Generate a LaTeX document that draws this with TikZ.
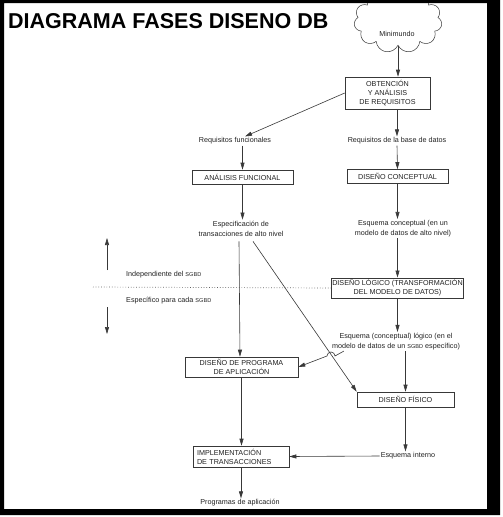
\documentclass[tikz,border=0pt]{standalone}
\usepackage{fontspec}
\setmainfont{Liberation Sans}
\usetikzlibrary{arrows.meta, shapes.symbols}
\definecolor{tinta}{HTML}{222222}
\definecolor{trazo}{HTML}{383838}
\newcommand{\sgbd}{{\fontsize{5.6}{6}\selectfont SGBD}}

\begin{document}
\begin{tikzpicture}[x=1pt, y=-1pt, >={Triangle[length=7pt, width=4pt]},
  caja/.style={draw=trazo, line width=0.6pt, inner sep=1pt, align=center, text=tinta, font=\fontsize{7.2}{9}\selectfont},
  texto/.style={inner sep=1pt, align=center, text=tinta, font=\fontsize{7.2}{10}\selectfont},
  flecha/.style={->, draw=trazo, line width=0.6pt}]

% Fondo
\fill[white] (0,0) rectangle (503,517);
\useasboundingbox (0,0) rectangle (503,517);

% Titulo
\node[anchor=base west, inner sep=0pt, font=\fontsize{21.5}{24}\selectfont\bfseries] (titulo) at (8,28) {DIAGRAMA FASES DISENO DB};

% Minimundo
\node[cloud, cloud puffs=11, cloud ignores aspect, draw=trazo, line width=0.5pt, minimum width=88pt, minimum height=64pt] (mundo) at (398,21) {};
\node[texto] (minimundo) at (397,34) {Minimundo};

% Columna derecha
\node[caja, minimum width=85pt, minimum height=32pt] (obt) at (387.5,93) {OBTENCIÓN\\Y ANÁLISIS\\DE REQUISITOS};
\node[texto] (reqbd) at (397,141) {Requisitos de la base de datos};
\node[caja, minimum width=101pt, minimum height=14pt] (dc) at (397.5,176.5) {DISEÑO CONCEPTUAL};
\node[texto] (esqc) at (403,228.5) {Esquema conceptual (en un\\modelo de datos de alto nivel)};
\node[caja, line width=1pt, minimum width=131pt, minimum height=20pt] (dl) at (397.5,288) {DISEÑO LÓGICO (TRANSFORMACIÓN\\DEL MODELO DE DATOS)};
\node[texto] (esql) at (396,341.5) {Esquema (conceptual) lógico (en el\\modelo de datos de un \sgbd{} específico)};
\node[caja, minimum width=97pt, minimum height=15pt] (df) at (405.5,399.5) {DISEÑO FÍSICO};
\node[texto] (esqi) at (408,456) {Esquema interno};

% Columna izquierda
\node[texto] (reqf) at (235,141) {Requisitos funcionales};
\node[caja, minimum width=101pt, minimum height=14pt] (anf) at (242.5,177) {ANÁLISIS FUNCIONAL};
\node[texto] (espec) at (241,228.5) {Especificación de\\transacciones de alto nivel};
\node[caja, minimum width=113pt, minimum height=20pt] (dp) at (241.5,367) {DISEÑO DE PROGRAMA\\DE APLICACIÓN};
\node[caja, align=left, minimum width=96pt, minimum height=21pt, text width=88pt] (imp) at (241,456.5) {IMPLEMENTACIÓN\\DE TRANSACCIONES};
\node[texto] (prog) at (240,503) {Programas de aplicación};

% Independiente / especifico
\node[texto, anchor=west] (indep) at (125,275) {Independiente del \sgbd};
\node[texto, anchor=west] (espc) at (125,301) {Específico para cada \sgbd};
\coordinate (limite) at (93,287);
\draw[trazo!80, dotted, line width=0.7pt] (limite) -- (dl.west);
\draw[flecha] ([xshift=-18pt, yshift=5pt]indep.west) -- ++(0,-32);
\draw[flecha] ([xshift=-18pt, yshift=-6pt]espc.west) -- ++(0,27);

% Flechas
\draw[flecha] (mundo.south) -- (mundo.south |- obt.north);
\draw[flecha] (obt.west) -- ([xshift=10pt]reqf.north);
\draw[flecha] (reqbd.north |- obt.south) -- (reqbd.north);
\draw[flecha] (reqbd.south) -- (dc.north);
\draw[flecha] (anf.north |- reqf.south) -- (anf.north);
\draw[flecha] (dc.south) -- (dc.south |- esqc.north);
\draw[flecha] (anf.south) -- (anf.south |- espec.north);
\draw[flecha] (dl.north |- esqc.south) -- (dl.north);
\draw[flecha] (dl.south) -- (dl.south |- esql.north);
\draw[flecha] ([xshift=-2pt, yshift=-4pt]espec.south) -- ([xshift=-1.5pt]dp.north);
\draw[flecha] ([xshift=12pt, yshift=-4pt]espec.south) -- (df.north west);
\coordinate (salto) at (335,356);
\draw[flecha] ([xshift=13pt]esql.south west) -- (salto) arc[start angle=0, end angle=-180, radius=4] -- (dp.east);
\draw[flecha] (df.north |- esql.south) -- (df.north);
\draw[flecha] (df.south) -- (df.south |- esqi.north);
\draw[flecha] (esqi.west) -- (imp.east);
\draw[flecha] (dp.south) -- (dp.south |- imp.north);
\draw[flecha] (imp.south) -- (imp.south |- prog.north);

% Marco
\fill[black, even odd rule] (0,0) rectangle (500,515) (4,3) rectangle (487,509);

\end{tikzpicture}
\end{document}
